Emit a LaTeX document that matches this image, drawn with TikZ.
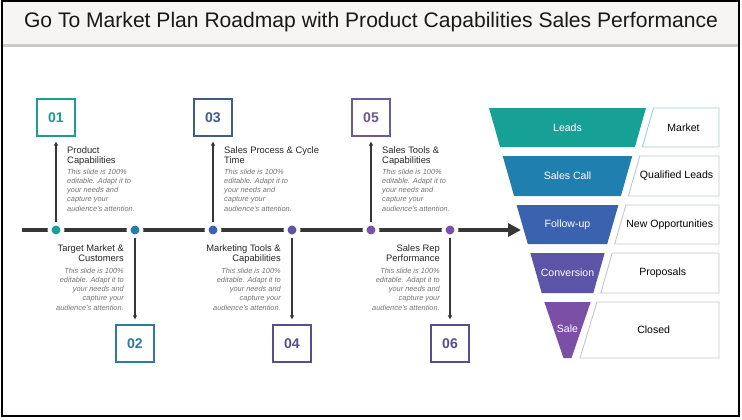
\documentclass[tikz,border=0pt]{standalone}
\usepackage{fontspec}
\setmainfont{Liberation Sans}
\usepackage{xcolor}
\definecolor{plan-ink}{HTML}{363636}
\definecolor{plan-bar}{HTML}{F6F5F3}
\definecolor{plan-shade}{HTML}{C9C9C9}
\definecolor{plan-teal}{HTML}{17A195}
\definecolor{plan-cyan}{HTML}{1F80B0}
\definecolor{plan-blue}{HTML}{3A62AE}
\definecolor{plan-indigo}{HTML}{5C54A6}
\definecolor{plan-violet}{HTML}{7C4FA6}
\definecolor{box-teal}{HTML}{1E9C90}
\definecolor{box-cyan}{HTML}{2A7E96}
\definecolor{box-slate}{HTML}{3F5D84}
\definecolor{box-indigo}{HTML}{5A4D8E}
\definecolor{box-violet}{HTML}{6C5A93}
\usetikzlibrary{arrows.meta}

\newcommand{\slidenote}{This slide is 100\%\\editable. Adapt it to\\your needs and\\capture your\\audience's attention.}

\tikzset{
    timeline/.style={draw=plan-ink, line width=4.2pt, -{Triangle[length=11pt, width=11pt]}},
    milestone/.style={circle, minimum size=11pt, inner sep=0pt, line width=3.4pt, draw=white},
    numbox/.style={draw, line width=1.3pt, fill=white, minimum width=32.7pt, minimum height=31.9pt,
        inner sep=0pt, font=\fontsize{12}{12}\selectfont\bfseries},
    pointer/.style={draw=plan-ink, line width=0.9pt, -{Triangle[length=3.5pt, width=3.5pt]}, shorten >=4pt},
    heading/.style={inner sep=0pt, font=\fontsize{8}{9.1}\selectfont, text=black!85},
    note/.style={inner sep=0pt, font=\fontsize{6.3}{7.9}\selectfont\itshape, text=black!55},
    band-label/.style={text=white, font=\fontsize{9}{9}\selectfont},
    stage-box/.style={line width=0.8pt, fill=white},
    stage-label/.style={text=black, font=\fontsize{9}{9}\selectfont},
}

\begin{document}
\begin{tikzpicture}[x=0.03cm, y=-0.03cm]

    \useasboundingbox (0, 0) rectangle (742, 420);

    % Title bar
    \fill[plan-bar] (2, 1) rectangle (739, 44);
    \fill[plan-shade] (2, 43.5) rectangle (739, 46.5);
    \node[font=\fontsize{18}{18}\selectfont, text=black!90] (title) at (371, 22)
        {Go To Market Plan Roadmap with Product Capabilities Sales Performance};

    % Timeline
    \coordinate (tl-start) at (22, 230);
    \coordinate (tl-end) at (521, 230);
    \draw[timeline] (tl-start) -- (tl-end);

    % Milestones
    \node[milestone, fill=plan-teal] (dot01) at (56, 230) {};
    \node[milestone, fill=plan-cyan] (dot02) at (135, 230) {};
    \node[milestone, fill=plan-blue] (dot03) at (213, 230) {};
    \node[milestone, fill=plan-indigo] (dot04) at (292, 230) {};
    \node[milestone, fill=plan-violet] (dot05) at (371, 230) {};
    \node[milestone, fill=plan-violet] (dot06) at (450, 230) {};

    % Number boxes
    \node[numbox, draw=box-teal, text=box-teal] (box01) at (56, 117.5) {01};
    \node[numbox, draw=box-cyan, text=box-cyan] (box02) at (135, 343.5) {02};
    \node[numbox, draw=box-slate, text=box-slate] (box03) at (213, 117.5) {03};
    \node[numbox, draw=box-indigo, text=box-indigo] (box04) at (292, 343.5) {04};
    \node[numbox, draw=box-violet, text=box-violet] (box05) at (371, 117.5) {05};
    \node[numbox, draw=box-indigo, text=box-indigo] (box06) at (450, 343.5) {06};

    % Pointers
    \draw[pointer] (dot01) -- (box01);
    \draw[pointer] (dot02) -- (box02);
    \draw[pointer] (dot03) -- (box03);
    \draw[pointer] (dot04) -- (box04);
    \draw[pointer] (dot05) -- (box05);
    \draw[pointer] (dot06) -- (box06);

    % Upper texts
    \node[heading, anchor=north west, align=left] (head01) at (67, 146) {Product\\Capabilities};
    \node[note, anchor=north west, align=left] (note01) at (67, 168.5) {\slidenote};
    \node[heading, anchor=north west, align=left] (head03) at (224, 146) {Sales Process \& Cycle\\Time};
    \node[note, anchor=north west, align=left] (note03) at (224, 168.5) {\slidenote};
    \node[heading, anchor=north west, align=left] (head05) at (382, 146) {Sales Tools \&\\Capabilities};
    \node[note, anchor=north west, align=left] (note05) at (382, 168.5) {\slidenote};

    % Lower texts
    \node[heading, anchor=north east, align=right] (head02) at (124, 244) {Target Market \&\\Customers};
    \node[note, anchor=north east, align=right] (note02) at (124, 267.5) {\slidenote};
    \node[heading, anchor=north east, align=right] (head04) at (281, 244) {Marketing Tools \&\\Capabilities};
    \node[note, anchor=north east, align=right] (note04) at (281, 267.5) {\slidenote};
    \node[heading, anchor=north east, align=right] (head06) at (440, 244) {Sales Rep\\Performance};
    \node[note, anchor=north east, align=right] (note06) at (440, 267.5) {\slidenote};

    % Funnel
    \fill[plan-teal] (489, 108) -- (646, 108) -- (634.9, 147) -- (500.1, 147) -- cycle;
    \fill[plan-cyan] (502.7, 156) -- (632.3, 156) -- (620.9, 196) -- (514.1, 196) -- cycle;
    \fill[plan-blue] (516.6, 205) -- (618.4, 205) -- (607.2, 244) -- (527.8, 244) -- cycle;
    \fill[plan-indigo] (530.3, 253) -- (604.7, 253) -- (593.3, 293) -- (541.7, 293) -- cycle;
    \fill[plan-violet] (544.3, 302) -- (590.7, 302) -- (571.5, 358) -- (563.5, 358) -- cycle;

    \node[band-label] (leads) at (567.5, 127.5) {Leads};
    \node[band-label] (sales-call) at (567.5, 176) {Sales Call};
    \node[band-label] (follow-up) at (567.5, 224.5) {Follow-up};
    \node[band-label] (conversion) at (567.5, 273) {Conversion};
    \node[band-label] (sale) at (567.5, 329) {Sale};

    % Stage boxes
    \draw[stage-box, draw=plan-teal!45] (653.5, 108) -- (719, 108) -- (719, 147) -- (642.4, 147) -- cycle;
    \draw[stage-box, draw=plan-cyan!30!black!25] (639.8, 156) -- (719, 156) -- (719, 196) -- (628.4, 196) -- cycle;
    \draw[stage-box, draw=plan-blue!30!black!25] (625.9, 205) -- (719, 205) -- (719, 244) -- (614.7, 244) -- cycle;
    \draw[stage-box, draw=plan-indigo!30!black!25] (612.2, 253) -- (719, 253) -- (719, 293) -- (600.8, 293) -- cycle;
    \draw[stage-box, draw=plan-violet!30!black!25] (597, 302) -- (719, 302) -- (719, 358) -- (580, 358) -- cycle;

    \node[stage-label] (market) at (683.5, 127.5) {Market};
    \node[stage-label] (qualified) at (676.6, 176) {Qualified Leads};
    \node[stage-label] (opportunities) at (669.7, 224.5) {New Opportunities};
    \node[stage-label] (proposals) at (662.7, 273) {Proposals};
    \node[stage-label] (closed) at (653.7, 330) {Closed};

    % Frame
    \draw[line width=1.3pt] (2, 1) rectangle (739, 416);

\end{tikzpicture}
\end{document}
